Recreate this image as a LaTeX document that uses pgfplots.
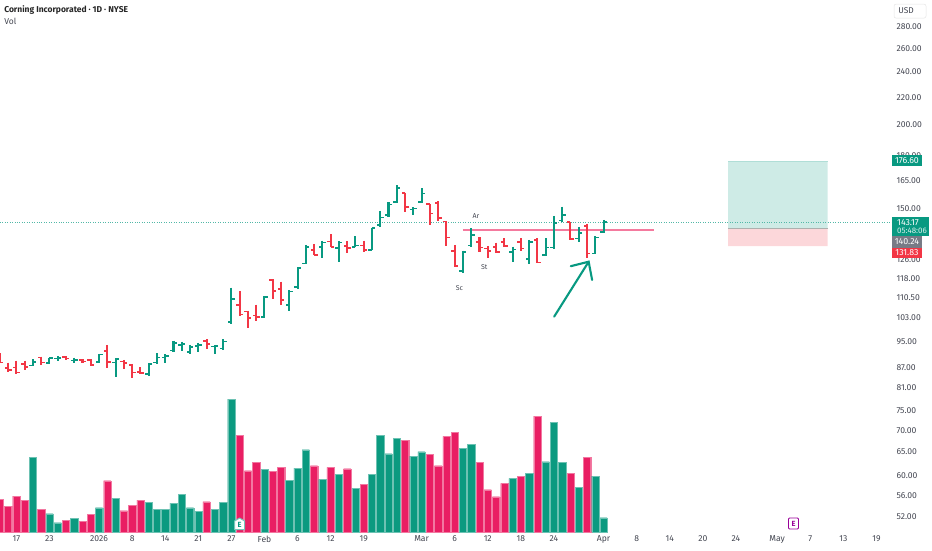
\documentclass[border=0pt]{standalone}
\usepackage{pgfplots}
\usepackage{pgfplotstable}
\usepackage{fontspec}
\setmainfont{Fira Sans}
\pgfplotsset{compat=1.18}
\definecolor{upc}{HTML}{089981}
\definecolor{dnc}{HTML}{F23645}
\definecolor{volup}{HTML}{0B9A80}
\definecolor{voldn}{HTML}{E91E63}
\definecolor{txt}{HTML}{434651}
\definecolor{lvl}{HTML}{F47A9E}
\definecolor{midl}{HTML}{ABB0AE}
\definecolor{tagg}{HTML}{787B86}
\pgfplotstableread{
i o h l c
4 87.5 89.4 87.2 88.5
6 88.2 89.9 87.9 89.7
7 89.6 90.4 89.0 89.7
9 89.0 89.9 88.2 89.2
12 88.5 91.1 88.2 90.9
14 88.4 89.7 84.2 89.4
18 84.9 88.2 84.5 88.0
19 88.4 91.3 88.0 89.9
20 89.9 91.0 88.4 90.3
21 92.1 95.3 91.7 94.6
22 93.9 95.0 92.1 94.1
23 91.6 93.9 91.1 93.2
24 93.6 94.6 91.6 93.9
26 93.4 93.9 91.0 93.5
27 92.8 95.7 92.3 95.0
28 101.7 114.4 100.9 109.9
32 103.4 111.1 103.1 110.8
35 107.7 113.4 105.7 112.8
36 114.7 122.6 113.7 122.2
37 124.3 132.4 124.0 131.6
39 131.6 134.4 126.8 133.5
41 130.9 134.0 124.7 133.5
43 131.6 136.5 131.3 132.2
45 130.1 140.5 130.0 140.2
46 141.9 149.0 141.0 145.5
47 146.8 153.3 146.0 152.1
48 153.5 162.7 152.8 160.9
50 149.6 150.7 146.6 150.1
51 153.5 160.9 152.8 158.1
56 121.1 129.8 120.1 129.3
57 132.1 140.2 131.6 137.0
62 129.3 131.6 124.7 130.4
64 126.1 134.7 124.0 133.9
66 127.8 135.4 127.4 131.3
67 131.3 146.3 130.5 142.7
68 144.0 151.0 143.5 146.9
70 135.4 140.7 133.9 137.8
72 128.6 136.5 128.3 135.9
73 138.6 144.3 138.1 143.17
}\upbars
\pgfplotstableread{
i o h l c
0 90.4 91.3 88.2 88.4
1 86.7 88.4 85.7 86.2
2 86.9 89.0 84.9 85.4
3 88.0 89.0 86.2 87.0
5 89.9 90.2 87.7 88.4
8 90.1 90.4 89.2 89.6
10 89.2 89.4 88.4 88.7
11 89.1 89.4 87.5 87.7
13 92.0 93.9 86.7 88.6
15 88.7 89.2 86.5 88.2
16 87.7 88.0 83.9 85.4
17 85.5 87.0 84.9 85.3
25 95.2 95.8 92.5 94.2
29 107.7 113.1 103.7 104.3
30 105.3 105.7 99.4 103.1
31 103.9 107.9 101.9 103.4
33 117.5 117.7 109.9 113.1
34 113.9 116.7 107.7 109.6
38 130.1 132.9 127.7 128.0
40 134.0 137.3 131.3 131.6
42 131.9 134.0 128.6 130.9
44 132.2 134.4 129.2 130.1
49 158.3 158.5 148.5 150.7
52 152.3 152.5 141.9 147.6
53 153.1 154.0 143.8 145.1
54 143.5 143.8 131.9 135.9
55 129.8 132.4 122.6 123.2
58 133.9 135.9 129.2 131.3
59 130.8 131.9 126.8 129.8
60 131.6 133.5 128.6 129.3
61 133.9 135.4 131.3 131.9
63 133.9 135.4 129.7 130.8
65 134.7 135.4 124.6 124.7
69 143.2 143.5 134.7 135.2
71 141.3 142.4 126.7 128.6
}\dnbars
\pgfplotstableread{
i v
4 74.7
6 18.3
7 9.3
9 13.7
12 24.3
14 33.7
18 29.7
19 22.7
20 23
21 29
22 38
23 24.3
24 20.7
26 22.7
27 29.7
28 133
32 62.7
35 52
36 64
37 82.3
39 52.7
41 57.7
43 43.7
45 57.7
46 97
47 78.3
48 93.7
50 76
51 80.3
56 83.7
57 88
62 53.7
64 58.7
66 70.3
67 110
68 69.7
70 44.7
72 56
73 14.3
}\upvol
\pgfplotstableread{
i v
0 32.7
1 26
2 36
3 31.7
5 22.7
8 12
10 11
11 17.7
13 51.3
15 21.3
16 27
17 32
25 30.3
29 96.7
30 61.3
31 70
33 60.7
34 65
38 66.3
40 64.7
42 63.3
44 48
49 91.7
52 78
53 66.3
54 95.7
55 100
58 69.7
59 42.3
60 35.3
61 48.7
63 55.7
65 116
69 58.7
71 74.7
}\dnvol
\pgfplotsset{
  ohlcv/.style={draw=none,mark=none,error bars/.cd,y dir=minus,y explicit,error mark=none,
    error bar style={draw=#1,solid,line width=2.05pt}},
  ohlco/.style={draw=none,mark=none,error bars/.cd,x dir=minus,x fixed=0.42,error mark=none,
    error bar style={draw=#1,solid,line width=1.7pt}},
  ohlcc/.style={draw=none,mark=none,error bars/.cd,x dir=plus,x fixed=0.42,error mark=none,
    error bar style={draw=#1,solid,line width=1.7pt}},
}
\begin{document}
\begin{tikzpicture}[x=1pt,y=1pt]
\path (0,0) rectangle (932,550);
% volume pane
\begin{axis}[
  at={(0pt,18pt)},anchor=south west,
  scale only axis,width=893pt,height=532pt,
  xmin=0.036,xmax=108,ymin=0,ymax=532,
  hide axis,clip=true]
\addplot[ybar,bar width=7.3pt,bar shift=0pt,fill=voldn,draw=voldn!60!white,line width=0.25pt] table[x=i,y=v]{\dnvol};
\addplot[ybar,bar width=7.3pt,bar shift=0pt,fill=volup,draw=volup!60!white,line width=0.25pt] table[x=i,y=v]{\upvol};
\end{axis}
% price pane
\begin{axis}[
  at={(0pt,18pt)},anchor=south west,
  scale only axis,width=893pt,height=532pt,
  xmin=0.036,xmax=108,ymode=log,ymin=49.37,ymax=307.2,
  axis line style={draw=none},
  major tick length=0pt,minor tick length=0pt,
  yticklabel pos=right,
  ytick={280,260,240,220,200,180,165,150,126,118,110.5,103,95,87,81,75,70,65,60,56,52},
  yticklabels={280.00,260.00,240.00,220.00,200.00,180.00,165.00,150.00,126.00,118.00,110.50,103.00,95.00,87.00,81.00,75.00,70.00,65.00,60.00,56.00,52.00},
  xtick={2,6,12,16,20,24,28,32,36,40,44,51,55,59,63,67,73,77,81,85,89,94,98,102,106},
  xticklabels={17,23,2026,8,14,21,27,Feb,6,12,19,Mar,6,12,18,24,Apr,8,14,20,24,May,7,13,19},
  tick label style={font=\fontsize{8.6pt}{10pt}\selectfont,text=txt},
  clip=true]
% position tool
\addplot[fill=upc!20!white,draw=none] coordinates {(88.07,140.24)(100.1,140.24)(100.1,176.6)(88.07,176.6)(88.07,140.24)};
\addplot[fill=dnc!20!white,draw=none] coordinates {(88.07,131.83)(100.1,131.83)(100.1,140.24)(88.07,140.24)(88.07,131.83)};
\addplot[color=upc!32!white,line width=1.2pt] coordinates {(88.07,176.2)(100.1,176.2)};
\addplot[color=midl,line width=1.2pt] coordinates {(88.07,140.24)(100.1,140.24)};
% last price line
\addplot[color=upc!70!white,dotted,line width=0.45pt] coordinates {(0,143.17)(108,143.17)};
% horizontal level
\addplot[color=lvl,line width=2.05pt] coordinates {(56,139.6)(79.1,139.6)};
% OHLC bars
\addplot[ohlcv=upc] table[x=i,y=h,y error expr=\thisrow{h}-\thisrow{l}]{\upbars};
\addplot[ohlco=upc] table[x=i,y=o]{\upbars};
\addplot[ohlcc=upc] table[x=i,y=c]{\upbars};
\addplot[ohlcv=dnc] table[x=i,y=h,y error expr=\thisrow{h}-\thisrow{l}]{\dnbars};
\addplot[ohlco=dnc] table[x=i,y=o]{\dnbars};
\addplot[ohlcc=dnc] table[x=i,y=c]{\dnbars};
% arrow
\draw[upc,line width=2.1pt,line cap=round] (axis cs:67.03,103.5)--(axis cs:71.2,125.0);
\draw[upc,line width=2.1pt,line cap=round,line join=miter] (axis cs:69.04,123.1)--(axis cs:71.2,125.0)--(axis cs:71.62,117.4);
\end{axis}
% annotations (picture coordinates: x, 550-y)
\node[text=txt,font=\fontsize{7pt}{8pt}\selectfont] at (476,334) {Ar};
\node[text=txt,font=\fontsize{7pt}{8pt}\selectfont] at (484.3,283) {St};
\node[text=txt,font=\fontsize{7pt}{8pt}\selectfont] at (459.3,262.3) {Sc};
% header
\node[anchor=west,inner sep=0pt,text=black!85,font=\fontsize{8.5pt}{10pt}\selectfont\bfseries] at (4,540) {Corning Incorporated · 1D · NYSE};
\node[anchor=west,inner sep=0pt,text=txt,font=\fontsize{8.5pt}{10pt}\selectfont] at (4,529) {Vol};
% currency button
\draw[draw=black!10,fill=white,rounded corners=2pt,line width=0.5pt] (894,532) rectangle (926,546);
\node[text=txt,font=\fontsize{8.4pt}{10pt}\selectfont] at (906,539) {USD};
% price tags
\fill[upc] (892,384) rectangle (922,395);
\node[text=white,font=\fontsize{8.8pt}{10pt}\selectfont] at (907,389.5) {176.60};
\fill[upc] (892,314) rectangle (929,333.3);
\node[anchor=west,inner sep=0pt,text=white,font=\fontsize{8.8pt}{10pt}\selectfont] at (897,327.5) {143.17};
\node[anchor=west,inner sep=0pt,text=white!85!upc,font=\fontsize{8pt}{10pt}\selectfont] at (897,319) {05:48:06};
\fill[tagg] (892,302.3) rectangle (922,314);
\node[text=white,font=\fontsize{8.8pt}{10pt}\selectfont] at (907,308) {140.24};
\fill[dnc] (892,292.3) rectangle (922,302.3);
\node[text=white,font=\fontsize{8.8pt}{10pt}\selectfont] at (907,297) {131.83};
% earnings flags
\draw[draw=upc!55!white,fill=white,line width=1pt,line join=round] (234.5,20.5)--(234.5,29)--(239.5,32)--(244.5,29)--(244.5,20.5)--cycle;
\node[text=upc,font=\fontsize{7.5pt}{8pt}\selectfont\bfseries] at (239.5,25.5) {E};
\draw[draw=violet!80!magenta,fill=white,line width=0.9pt,rounded corners=1pt] (788.5,21) rectangle (798.5,32);
\node[text=violet!80!magenta,font=\fontsize{7.5pt}{8pt}\selectfont\bfseries] at (793.5,26.5) {E};
\end{tikzpicture}
\end{document}
